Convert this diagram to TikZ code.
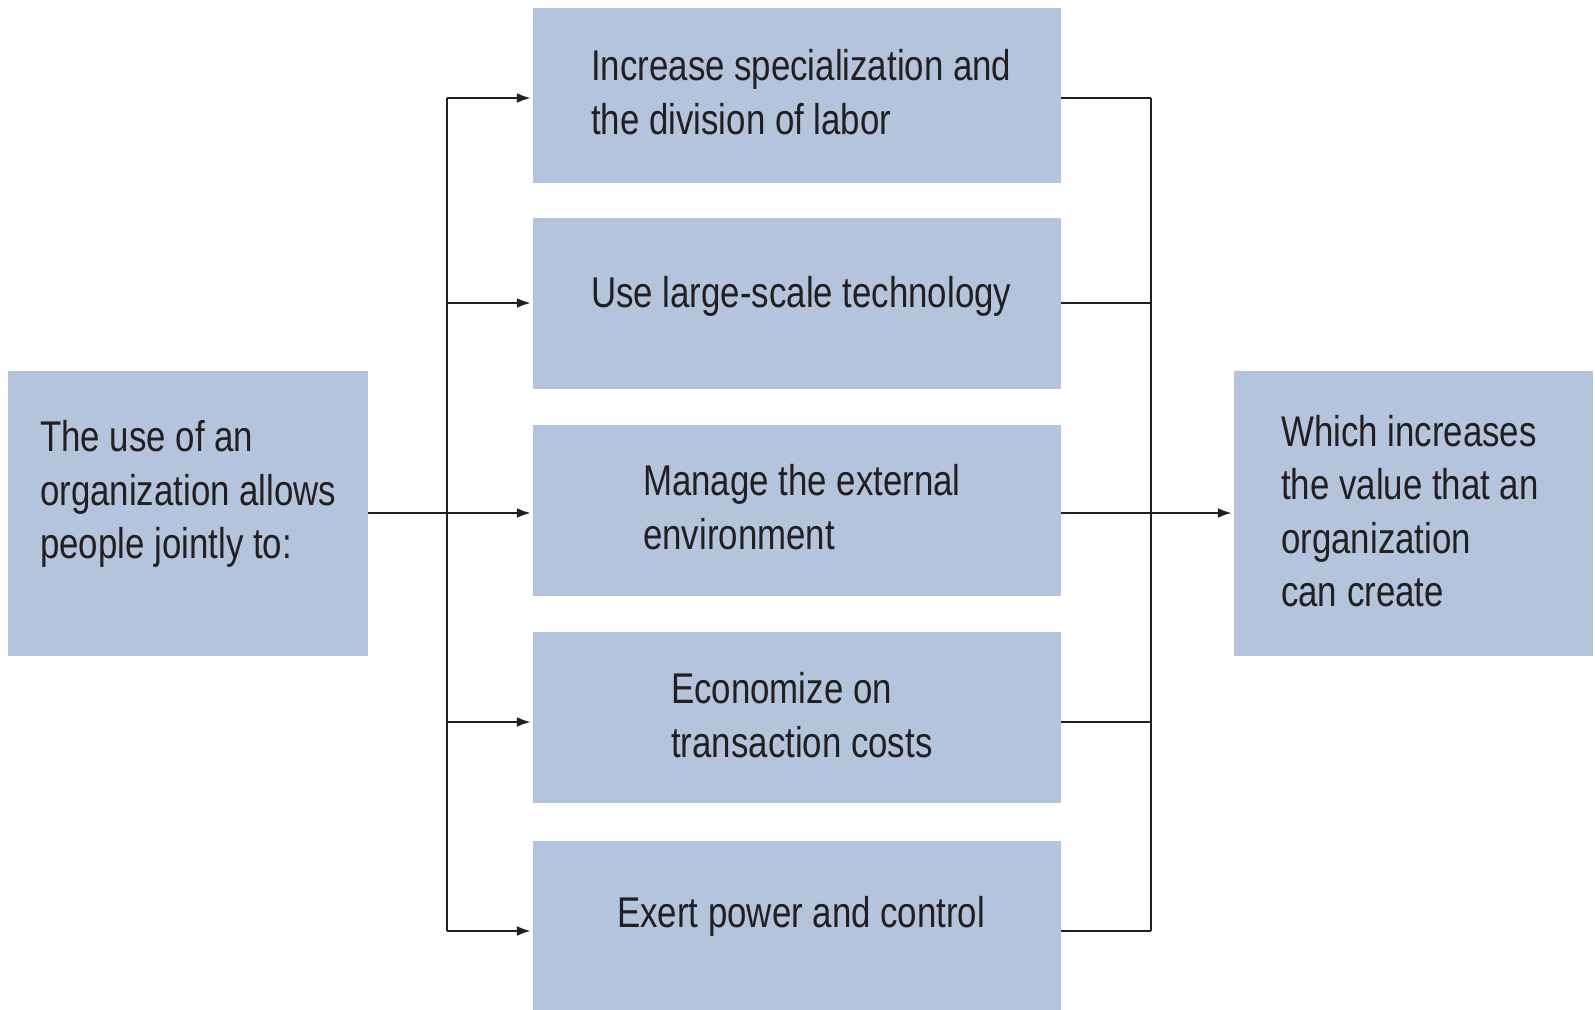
\documentclass[tikz,border=0pt]{standalone}
\usepackage{fontspec}
\setmainfont{Liberation Sans}[FakeStretch=0.81]
\usetikzlibrary{arrows.meta}
\definecolor{boxfill}{HTML}{B3C4DC}
\definecolor{ink}{HTML}{231F20}
\begin{document}
\begin{tikzpicture}[x=1pt,y=-1pt,
  box/.style={fill=boxfill, draw=none, inner sep=0pt},
  lbl/.style={anchor=west, align=left, inner sep=0pt, font=\fontsize{43}{53.5}\selectfont, text=ink},
  conn/.style={draw=ink, line width=2.3pt},
  arr/.style={conn, -{Latex[length=14pt,width=10pt]}, shorten >=2pt}]
\useasboundingbox (0,0) rectangle (1595,1009);
% boxes
\node[box, minimum width=360pt, minimum height=285pt] (src) at (188,513.5) {};
\node[box, minimum width=528pt, minimum height=175pt] (b1) at (797,95.5) {};
\node[box, minimum width=528pt, minimum height=171pt] (b2) at (797,303.5) {};
\node[box, minimum width=528pt, minimum height=171pt] (b3) at (797,510.5) {};
\node[box, minimum width=528pt, minimum height=171pt] (b4) at (797,717.5) {};
\node[box, minimum width=528pt, minimum height=170pt] (b5) at (797,926) {};
\node[box, minimum width=359pt, minimum height=285pt] (dst) at (1413.5,513.5) {};
% texts
\node[lbl] (tsrc) at (40,494) {The use of an\\organization allows\\people jointly to:};
\node[lbl] (t1) at (591,92) {Increase specialization and\\the division of labor};
\node[lbl] (t2) at (591,296) {Use large-scale technology};
\node[lbl] (t3) at (643,507) {Manage the external\\environment};
\node[lbl] (t4) at (671,715) {Economize on\\transaction costs};
\node[lbl] (t5) at (617,916) {Exert power and control};
\node[lbl] (tdst) at (1281,511) {Which increases\\the value that an\\organization\\can create};
% left trunk
\coordinate (l1) at (447,98);
\coordinate (l2) at (447,303);
\coordinate (l3) at (447,513);
\coordinate (l4) at (447,722);
\coordinate (l5) at (447,931);
\draw[conn] (l1) -- (l5);
\draw[conn] (src.east |- l3) -- (l3);
\draw[arr] (l1) -- (l1 -| b1.west);
\draw[arr] (l2) -- (l2 -| b2.west);
\draw[arr] (l3) -- (l3 -| b3.west);
\draw[arr] (l4) -- (l4 -| b4.west);
\draw[arr] (l5) -- (l5 -| b5.west);
% right trunk
\coordinate (r1) at (1151,98);
\coordinate (r2) at (1151,303);
\coordinate (r3) at (1151,513);
\coordinate (r4) at (1151,722);
\coordinate (r5) at (1151,931);
\draw[conn] (r1) -- (r5);
\draw[conn] (b1.east |- r1) -- (r1);
\draw[conn] (b2.east |- r2) -- (r2);
\draw[conn] (b4.east |- r4) -- (r4);
\draw[conn] (b5.east |- r5) -- (r5);
\draw[arr] (b3.east |- r3) -- (r3 -| dst.west);
\end{tikzpicture}
\end{document}
